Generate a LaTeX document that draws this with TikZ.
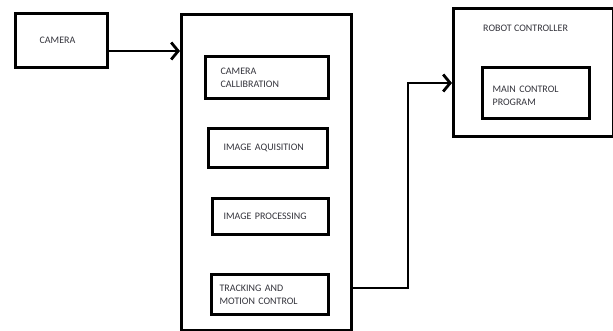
\documentclass[tikz,border=0pt]{standalone}
\usepackage{fontspec}
\setmainfont{Carlito}
\usetikzlibrary{arrows.meta}
\definecolor{txt}{HTML}{33333B}
\begin{document}
\begin{tikzpicture}[x=1pt,y=-1pt,
  box/.style={draw=black,line width=3.2pt,anchor=north west,align=left,
    font=\fontsize{10}{13}\selectfont,text=txt,inner ysep=0pt},
  conn/.style={line width=2.8pt,line join=miter},
  arr/.style={conn,-{Straight Barb[length=7pt,width=17pt,line width=2.8pt]}},
  lbl/.style={anchor=west,font=\fontsize{10}{13}\selectfont,text=txt,inner sep=0pt}]
\useasboundingbox (0,0) rectangle (613,331);
% camera
\node[box,minimum height=54pt,text width=44pt,inner xsep=24pt] (cam) at (14,12) {CAMERA};
% main processing box
\node[draw=black,line width=3.2pt,anchor=north west,minimum width=170pt,minimum height=316pt,inner sep=0pt] (main) at (180,13) {};
\node[box,minimum height=42pt,text width=93pt,inner xsep=15pt] (calib) at (204,55) {CAMERA\\CALLIBRATION};
\node[box,minimum height=39pt,text width=89pt,inner xsep=15pt] (acq) at (207,127) {IMAGE AQUISITION};
\node[box,minimum height=36pt,text width=94pt,inner xsep=11pt] (proc) at (211,197) {IMAGE PROCESSING};
\node[box,minimum height=40pt,text width=101pt,inner xsep=8pt] (track) at (210,273) {TRACKING AND\\MOTION CONTROL};
% robot controller
\node[draw=black,line width=3.2pt,anchor=north west,minimum width=160pt,minimum height=128pt,inner sep=0pt] (robot) at (452,7) {};
\node[lbl] (rtitle) at (483,28) {ROBOT CONTROLLER};
\node[box,minimum height=51pt,text width=87pt,inner xsep=10pt] (mcp) at (481,66) {\rule{0pt}{11pt}MAIN CONTROL\\PROGRAM};
% connectors
\coordinate (c1) at (0,51);
\coordinate (c2) at (0,288);
\coordinate (bend) at (408,83);
\draw[arr] (cam.east |- c1) -- (main.west |- c1);
\draw[arr] (main.east |- c2) -| (bend) -- (robot.west |- bend);
\end{tikzpicture}
\end{document}
